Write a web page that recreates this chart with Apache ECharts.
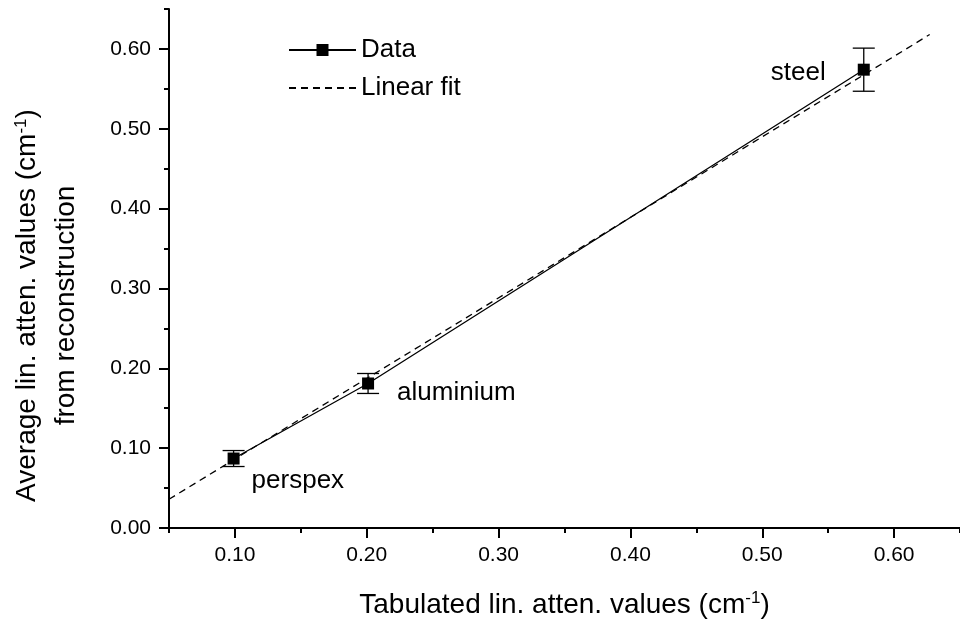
<!DOCTYPE html>
<html>
<head>
<meta charset="utf-8">
<script src="https://cdn.jsdelivr.net/npm/echarts@6/dist/echarts.min.js"></script>
<style>html,body{margin:0;padding:0;background:#fff}#c{width:960px;height:628px}</style>
</head>
<body>
<div id="c"></div>
<script>
// ---- data ----
const materials = ['perspex', 'aluminium', 'steel'];
const tabulated = [0.099, 0.201, 0.577];
const reconstructed = [0.087, 0.181, 0.574];
const errors = [0.010, 0.0125, 0.027];
const fitX = [0.05, 0.627];
const fitY = [0.036, 0.618];
const xMajorTicks = [0.10, 0.20, 0.30, 0.40, 0.50, 0.60];
const xMinorTicks = [0.05, 0.15, 0.25, 0.35, 0.45, 0.55, 0.65];
const yMajorTicks = [0.00, 0.10, 0.20, 0.30, 0.40, 0.50, 0.60];
const yMinorTicks = [0.05, 0.15, 0.25, 0.35, 0.45, 0.55, 0.65];

const FONT = '"Liberation Sans", Arial, sans-serif';
const chart = echarts.init(document.getElementById('c'), null, {renderer: 'canvas'});

const labelOffsets = [[12, 22], [23, 9], [-32, 3]];
const labelPos = ['right', 'right', 'left'];

const dataPoints = materials.map((m, i) => ({
  name: m,
  value: [tabulated[i], reconstructed[i]],
  label: {show: true, position: labelPos[i], offset: labelOffsets[i], formatter: m,
          fontSize: 26, color: '#000', fontFamily: FONT, distance: 0}
}));

const errData = materials.map((m, i) => [tabulated[i], reconstructed[i] - errors[i], reconstructed[i] + errors[i]]);
const fitData = fitX.map((x, i) => [x, fitY[i]]);

const axisLineStyle = {color: '#000', width: 2};
const supRich = {
  n: {fontSize: 28, fontFamily: FONT, color: '#000'},
  s: {fontSize: 17, fontFamily: FONT, color: '#000', padding: [0, 0, 13, 0]}
};

chart.setOption({
  animation: false,
  backgroundColor: '#fff',
  grid: {left: 168, top: 9, width: 800, height: 519, containLabel: false},
  legend: {
    orient: 'vertical', left: 288, top: 37, itemWidth: 67, itemHeight: 15, itemGap: 12,
    padding: 0,
    textStyle: {fontSize: 26, fontFamily: FONT, color: '#000'},
    data: [{name: 'Data'}, {name: 'Linear fit', itemStyle: {opacity: 0}}]
  },
  xAxis: [{
    type: 'value', min: 0.05, max: 0.65, position: 'bottom',
    axisLine: {show: true, onZero: false, lineStyle: axisLineStyle},
    axisTick: {show: true, customValues: xMajorTicks, length: 10, lineStyle: {color: '#000', width: 2}},
    axisLabel: {customValues: xMajorTicks, formatter: v => v.toFixed(2), fontSize: 21, color: '#000', fontFamily: FONT, margin: 17},
    splitLine: {show: false},
    name: '{n|Tabulated lin. atten. values (cm}{s|-1}{n|)}',
    nameLocation: 'middle', nameGap: 62,
    nameTextStyle: {rich: supRich}
  }, {
    type: 'value', min: 0.05, max: 0.65, position: 'bottom', gridIndex: 0,
    axisLine: {show: false},
    axisTick: {show: true, customValues: xMinorTicks, length: 5, lineStyle: {color: '#000', width: 2}},
    axisLabel: {show: false}, splitLine: {show: false}
  }],
  yAxis: [{
    type: 'value', min: 0, max: 0.65, position: 'left',
    axisLine: {show: true, onZero: false, lineStyle: axisLineStyle},
    axisTick: {show: true, customValues: yMajorTicks, length: 10, lineStyle: {color: '#000', width: 2}},
    axisLabel: {customValues: yMajorTicks, formatter: v => v.toFixed(2), fontSize: 21, color: '#000', fontFamily: FONT, margin: 18},
    splitLine: {show: false},
    name: '{n|Average lin. atten. values (cm}{s|-1}{n|)}\n{n|from reconstruction}',
    nameLocation: 'middle', nameGap: 83, nameRotate: 90,
    nameTextStyle: {rich: supRich, lineHeight: 39, align: 'center', padding: [0, 74, 0, 0]}
  }, {
    type: 'value', min: 0, max: 0.65, position: 'left', gridIndex: 0,
    axisLine: {show: false},
    axisTick: {show: true, customValues: yMinorTicks, length: 5, lineStyle: {color: '#000', width: 2}},
    axisLabel: {show: false}, splitLine: {show: false}
  }],
  series: [{
    name: 'Linear fit', type: 'line', data: fitData, showSymbol: false, symbol: 'none',
    lineStyle: {color: '#000', width: 1.3, type: [7, 5]}, itemStyle: {color: '#000'},
    z: 2
  }, {
    name: 'Data', type: 'line', data: dataPoints, symbol: 'rect', symbolSize: 12,
    lineStyle: {color: '#000', width: 1.3}, itemStyle: {color: '#000'},
    z: 3
  }, {
    name: 'err', type: 'custom', data: errData, z: 4,
    renderItem: function (params, api) {
      const x = api.value(0);
      const lo = api.coord([x, api.value(1)]);
      const hi = api.coord([x, api.value(2)]);
      const hw = 11;
      const st = {stroke: '#000', lineWidth: 1.3, fill: null};
      return {type: 'group', children: [
        {type: 'line', shape: {x1: lo[0], y1: lo[1], x2: hi[0], y2: hi[1]}, style: st},
        {type: 'line', shape: {x1: lo[0] - hw, y1: lo[1], x2: lo[0] + hw, y2: lo[1]}, style: st},
        {type: 'line', shape: {x1: hi[0] - hw, y1: hi[1], x2: hi[0] + hw, y2: hi[1]}, style: st}
      ]};
    }
  }]
});
</script>
</body>
</html>
